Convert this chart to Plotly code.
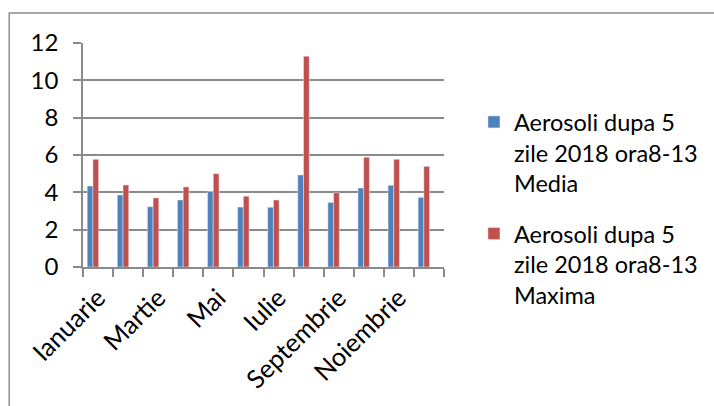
import plotly.graph_objects as go

# date
luni = ["Ianuarie", "Februarie", "Martie", "Aprilie", "Mai", "Iunie",
        "Iulie", "August", "Septembrie", "Octombrie", "Noiembrie", "Decembrie"]
etichete = ["Ianuarie", "", "Martie", "", "Mai", "", "Iulie", "", "Septembrie", "", "Noiembrie", ""]
media = [4.34, 3.86, 3.23, 3.59, 4.04, 3.21, 3.20, 4.93, 3.46, 4.23, 4.38, 3.73]
maxima = [5.77, 4.39, 3.70, 4.29, 5.00, 3.79, 3.59, 11.29, 3.98, 5.88, 5.77, 5.39]

nume_media = "Aerosoli dupa 5<br>zile 2018 ora8-13<br>Media"
nume_maxima = "Aerosoli dupa 5<br>zile 2018 ora8-13<br>Maxima"

font_fam = "Lato, Calibri, sans-serif"
gri = "#8a8a8a"

fig = go.Figure()
fig.add_trace(go.Bar(x=luni, y=media, name=nume_media, marker_color="#4F81BD",
                     offset=-0.36, width=0.19, legendgroup="media"))
fig.add_trace(go.Bar(x=luni, y=maxima, name=nume_maxima, marker_color="#C0504D",
                     offset=-0.17, width=0.19, legendgroup="maxima"))

fig.update_xaxes(type="category", tickmode="array", tickvals=luni, ticktext=etichete,
                 tickangle=-45, tickson="boundaries", ticks="outside", ticklen=8,
                 tickcolor=gri, tickwidth=1.5, showline=True, linecolor=gri, linewidth=1.5,
                 showgrid=False, ticklabelstandoff=4, tickfont=dict(size=25.5))
fig.update_yaxes(range=[0, 12], dtick=2, ticks="outside", ticklen=8, tickcolor=gri,
                 tickwidth=1.5, showline=True, linecolor=gri, linewidth=1.5,
                 showgrid=True, gridcolor=gri, gridwidth=1.5, zeroline=False,
                 ticklabelstandoff=10, tickfont=dict(size=24))

# chenarul exterior (sus si stanga)
fig.add_shape(type="rect", xref="paper", yref="paper", x0=-0.2044, x1=1.76, y0=-0.64, y1=1.134,
              line=dict(color="#8c8c8c", width=1.5), layer="below")

fig.update_layout(
    width=714, height=406, margin=dict(l=83, r=269, t=43, b=139),
    paper_bgcolor="white", plot_bgcolor="white",
    font=dict(family=font_fam, size=23, color="black"),
    barmode="group", showlegend=True,
    legend=dict(x=1.08, y=0.745, xanchor="left", yanchor="top", valign="top",
                font=dict(size=23.5), tracegroupgap=17, traceorder="grouped",
                bgcolor="rgba(0,0,0,0)"),
)

fig.write_html("out.html", config={"displayModeBar": False},
               post_script="document.body.style.margin='0';")
